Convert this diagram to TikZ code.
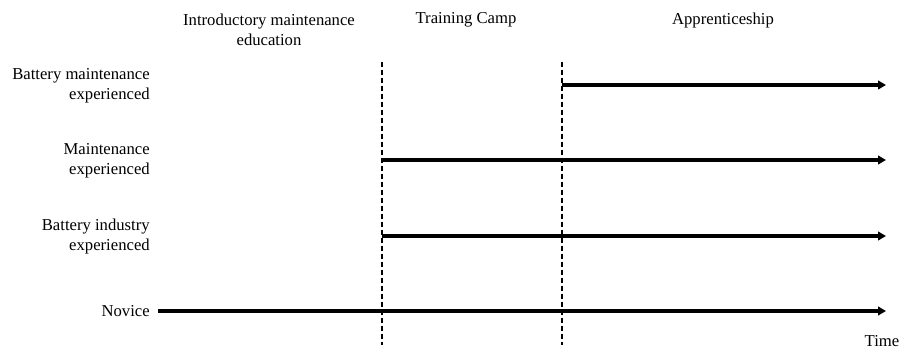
\documentclass[tikz,border=0pt]{standalone}
\usepackage{fontspec}
\setmainfont{Liberation Serif}
\usetikzlibrary{arrows.meta,positioning}

\begin{document}
\begin{tikzpicture}[x=0.75pt,y=-0.75pt]
\tikzstyle{every node}+=[inner sep=0pt,font=\fontsize{12.5}{15}\selectfont]
\tikzstyle{phase}=[align=center]
\tikzstyle{level}=[align=right,anchor=east]
\tikzstyle{track}=[line width=2.5pt,-{Triangle[length=6pt,width=6.5pt]}]
\tikzstyle{border}=[line width=1.2pt,dash pattern=on 3.5pt off 2.5pt]
\useasboundingbox (0,0) rectangle (902,352);
% phases along the top
\node [phase] (intro) at (269,30) {Introductory maintenance\\education};
\node [phase] (camp) at (466,20) {Training Camp};
\node [phase] (appr) at (723,20) {Apprenticeship};
% phase borders
\coordinate (b1top) at (382,62);
\coordinate (b1bot) at (382,345);
\coordinate (b2top) at (562,62);
\coordinate (b2bot) at (562,345);
\draw [border] (b1top) -- (b1bot);
\draw [border] (b2top) -- (b2bot);
% starting levels
\node [level] (bm) at (150,86) {Battery maintenance\\experienced};
\node [level] (mx) at (150,161) {Maintenance\\experienced};
\node [level] (bi) at (150,236) {Battery industry\\experienced};
\node [level] (nov) at (150,311) {Novice};
\coordinate (bmS) at (562,85);
\coordinate (bmE) at (886,85);
\coordinate (mxS) at (382,160);
\coordinate (mxE) at (886,160);
\coordinate (biS) at (382,236);
\coordinate (biE) at (886,236);
\coordinate (novS) at (158,311);
\coordinate (novE) at (886,311);
\draw [track] (bmS) -- (bmE);
\draw [track] (mxS) -- (mxE);
\draw [track] (biS) -- (biE);
\draw [track] (novS) -- (novE);
\node (time) at (882,341) {Time};
\end{tikzpicture}
\end{document}
